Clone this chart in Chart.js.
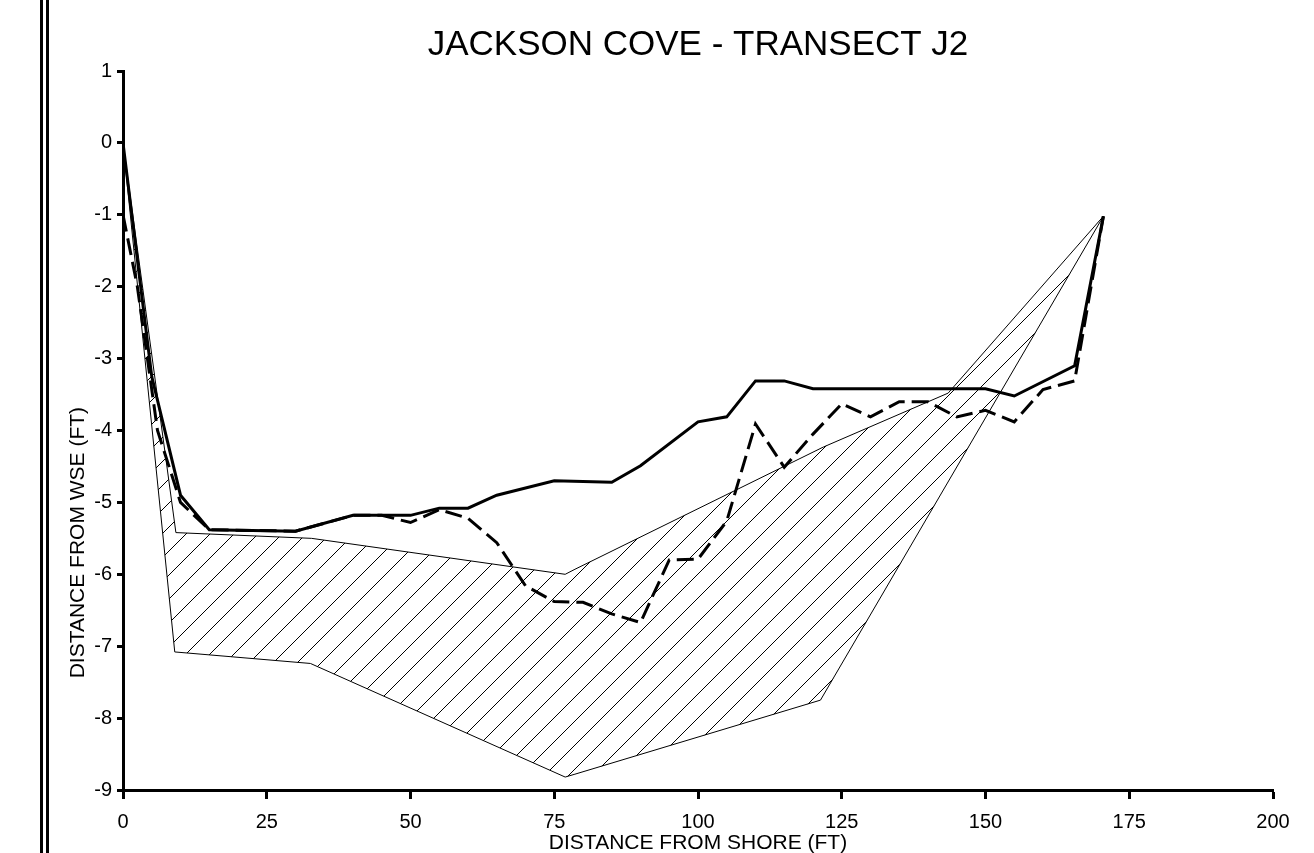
<!DOCTYPE html>
<html>
<head>
<meta charset="utf-8">
<title>Jackson Cove - Transect J2</title>
<script src="https://cdn.jsdelivr.net/npm/chart.js@4.4.1/dist/chart.umd.min.js"></script>
<style>
  html, body { margin: 0; padding: 0; background: #fff; }
  #wrap { position: relative; width: 1314px; height: 853px; }
  #frame { position: absolute; left: 40px; top: 0; width: 0; height: 853px; border-left: 9px double #000; }
</style>
</head>
<body>
<div id="wrap">
  <canvas id="chart"></canvas>
  <div id="frame"></div>
</div>
<script>
const titleText = 'JACKSON COVE - TRANSECT J2';
const xTitle = 'DISTANCE FROM SHORE (FT)';
const yTitle = 'DISTANCE FROM WSE (FT)';

// solid profile
const solidX = [0, 5, 10, 15, 30, 40, 50, 55, 60, 65, 75, 85, 90, 100, 105, 110, 115, 120, 150, 155, 165.5, 170.5];
const solidY = [0, -3.25, -4.9, -5.38, -5.4, -5.18, -5.18, -5.08, -5.08, -4.9, -4.7, -4.72, -4.49, -3.88, -3.81, -3.31, -3.31, -3.42, -3.42, -3.52, -3.1, -1.02];

// dashed profile
const dashX = [0, 2.5, 6, 10, 15, 30, 40, 45, 50, 55, 60, 65, 70, 75, 80, 85, 90, 95, 100, 105, 110, 115, 120, 125, 130, 135, 140, 145, 150, 155, 160, 165.5, 170.5];
const dashY = [-1, -2, -4, -5.0, -5.38, -5.4, -5.18, -5.18, -5.28, -5.1, -5.22, -5.56, -6.16, -6.38, -6.39, -6.55, -6.67, -5.8, -5.79, -5.26, -3.91, -4.51, -4.05, -3.63, -3.81, -3.6, -3.6, -3.81, -3.72, -3.88, -3.43, -3.31, -1.02];

// hatched envelope, top and bottom edges
const envTopX = [0, 9.2, 32.8, 76.9, 78.6, 121.8, 143.5, 170.5];
const envTopY = [0, -5.42, -5.5, -6.0, -5.93, -4.23, -3.48, -1.02];
const envBotX = [0, 9, 32.6, 76.9, 78.6, 121.3, 170.5];
const envBotY = [0, -7.08, -7.24, -8.82, -8.78, -7.75, -1.02];

const xTicks = [0, 25, 50, 75, 100, 125, 150, 175, 200];
const yTicks = [1, 0, -1, -2, -3, -4, -5, -6, -7, -8, -9];

const fontFamily = "'Liberation Sans', Arial, Helvetica, sans-serif";

const toPoints = (xs, ys) => xs.map((x, i) => ({ x: x, y: ys[i] }));
const envelope = toPoints(envTopX, envTopY).concat(toPoints(envBotX, envBotY).reverse());

function makeHatch() {
  const c = document.createElement('canvas');
  c.width = 24;
  c.height = 24;
  const g = c.getContext('2d');
  g.strokeStyle = '#000';
  g.lineWidth = 1;
  g.beginPath();
  g.moveTo(0, 24); g.lineTo(24, 0);
  g.moveTo(-5, 5); g.lineTo(5, -5);
  g.moveTo(19, 29); g.lineTo(29, 19);
  g.stroke();
  return g.createPattern(c, 'repeat');
}

// vertical axis title, placed lower than the axis centre like the original
const yTitlePlugin = {
  id: 'yTitle',
  afterDraw(chart) {
    const { ctx, chartArea } = chart;
    ctx.save();
    ctx.translate(78, chartArea.top + (chartArea.bottom - chartArea.top) * 0.656);
    ctx.rotate(-Math.PI / 2);
    ctx.font = '21px ' + fontFamily;
    ctx.fillStyle = '#000';
    ctx.textAlign = 'center';
    ctx.textBaseline = 'middle';
    ctx.fillText(chart.options.scales.y.title.text, 0, 0);
    ctx.restore();
  }
};

const axisLine = { display: true, color: '#000', width: 3 };

new Chart(document.getElementById('chart'), {
  type: 'scatter',
  data: {
    datasets: [
      {
        label: 'Envelope',
        data: envelope,
        showLine: true,
        fill: 'shape',
        backgroundColor: makeHatch(),
        borderColor: '#000',
        borderWidth: 1,
        pointRadius: 0,
        tension: 0,
        order: 3
      },
      {
        label: 'Dashed',
        data: toPoints(dashX, dashY),
        showLine: true,
        fill: false,
        borderColor: '#000',
        borderWidth: 3,
        borderDash: [17, 7],
        pointRadius: 0,
        tension: 0,
        order: 2
      },
      {
        label: 'Solid',
        data: toPoints(solidX, solidY),
        showLine: true,
        fill: false,
        borderColor: '#000',
        borderWidth: 3,
        pointRadius: 0,
        tension: 0,
        order: 1
      }
    ]
  },
  options: {
    responsive: true,
    maintainAspectRatio: false,
    animation: false,
    layout: { padding: { left: 60, right: 41, top: 0, bottom: 0 } },
    plugins: {
      legend: { display: false },
      tooltip: { enabled: false },
      title: {
        display: true,
        text: titleText,
        fullSize: false,
        color: '#000',
        font: { family: fontFamily, size: 35, weight: 'normal' },
        padding: { top: 24, bottom: 5 }
      }
    },
    scales: {
      x: {
        type: 'linear',
        min: 0,
        max: 200,
        afterFit: s => { s.height = 63; },
        afterBuildTicks: s => { s.ticks = xTicks.map(v => ({ value: v })); },
        border: axisLine,
        grid: { drawOnChartArea: false, drawTicks: true, tickLength: 9, tickWidth: 3, tickColor: '#000' },
        ticks: { color: '#000', padding: 11, maxRotation: 0, font: { family: fontFamily, size: 20 } },
        title: { display: true, text: xTitle, color: '#000', font: { family: fontFamily, size: 21 }, padding: { top: 0, bottom: -3 } }
      },
      y: {
        type: 'linear',
        min: -9,
        max: 1,
        afterFit: s => { s.width = 63; },
        afterBuildTicks: s => { s.ticks = yTicks.map(v => ({ value: v })); },
        border: axisLine,
        grid: { drawOnChartArea: false, drawTicks: true, tickLength: 6, tickWidth: 3, tickColor: '#000' },
        ticks: { color: '#000', padding: 5, font: { family: fontFamily, size: 20 } },
        title: { display: false, text: yTitle }
      }
    }
  },
  plugins: [yTitlePlugin]
});
</script>
</body>
</html>
